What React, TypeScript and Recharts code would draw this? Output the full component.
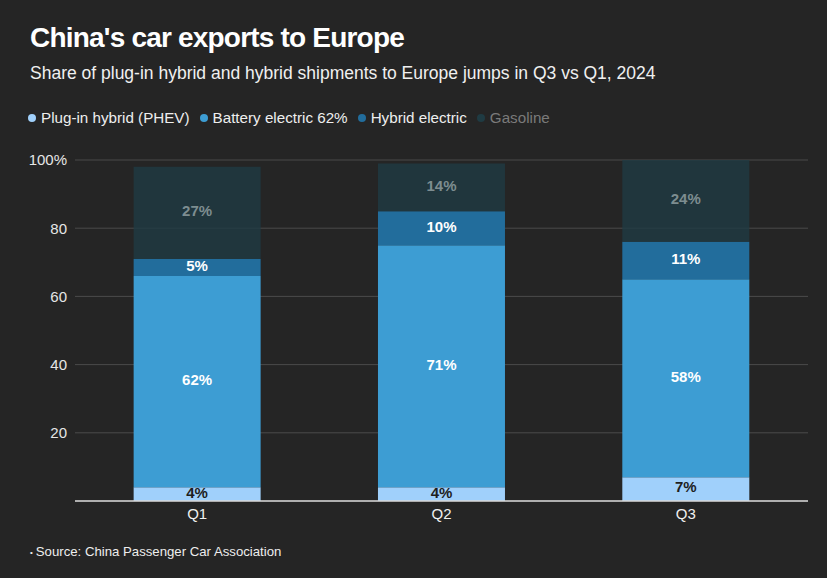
import { Bar, BarChart, CartesianGrid, LabelList, XAxis, YAxis } from "recharts";

const quarters = ["Q1", "Q2", "Q3"];
const phev = [4, 4, 7];
const battery = [62, 71, 58];
const hybrid = [5, 10, 11];
const gasoline = [27, 14, 24];
const yTicks = [0, 20, 40, 60, 80, 100];

const series = [
  { key: "phev", name: "Plug-in hybrid (PHEV)", color: "#a0d0fb", label: "#1e1e1e", legendText: "#eeeeee", opacity: 1 },
  { key: "battery", name: "Battery electric 62%", color: "#3d9dd3", label: "#ffffff", legendText: "#eeeeee", opacity: 1 },
  { key: "hybrid", name: "Hybrid electric", color: "#226d9c", label: "#ffffff", legendText: "#eeeeee", opacity: 1 },
  { key: "gasoline", name: "Gasoline", color: "#1f3b43", label: "#7d8d90", legendText: "#7a7a7a", opacity: 0.8 },
];

const data = quarters.map((q, i) => ({
  quarter: q,
  phev: phev[i],
  battery: battery[i],
  hybrid: hybrid[i],
  gasoline: gasoline[i],
}));

const font = '"Liberation Sans", Arial, Helvetica, sans-serif';

export default function App() {
  return (
    <div
      style={{
        position: "absolute",
        left: 0,
        top: 0,
        width: 827,
        height: 578,
        background: "#252525",
        fontFamily: font,
        overflow: "hidden",
      }}
    >
      <div style={{ position: "absolute", left: 30, top: 24, fontSize: 28, lineHeight: "28px", fontWeight: 700, color: "#ffffff", letterSpacing: -0.8, whiteSpace: "nowrap" }}>
        China's car exports to Europe
      </div>
      <div style={{ position: "absolute", left: 30, top: 65, fontSize: 17.5, lineHeight: "17px", color: "#f0f0f0", whiteSpace: "nowrap" }}>
        Share of plug-in hybrid and hybrid shipments to Europe jumps in Q3 vs Q1, 2024
      </div>
      <div style={{ position: "absolute", left: 28, top: 110, display: "flex", fontSize: 15.2, lineHeight: "15px", whiteSpace: "nowrap" }}>
        {series.map((s) => (
          <div key={s.key} style={{ display: "flex", alignItems: "center", marginRight: 10 }}>
            <span style={{ width: 8, height: 8, borderRadius: 4, background: s.color, marginRight: 5, display: "inline-block" }} />
            <span style={{ color: s.legendText }}>{s.name}</span>
          </div>
        ))}
      </div>

      <div style={{ position: "absolute", left: 0, top: 0 }}>
        <BarChart
          width={827}
          height={578}
          data={data}
          margin={{ top: 160, right: 19, left: 0, bottom: 47 }}
          barCategoryGap="24%"
        >
          <CartesianGrid stroke="#4a4a4a" vertical={false} />
          <XAxis
            dataKey="quarter"
            axisLine={{ stroke: "#d8d8d8", strokeWidth: 1.5 }}
            tickLine={false}
            tick={{ fill: "#f0f0f0", fontSize: 15, fontFamily: font }}
            tickMargin={1}
            height={30}
          />
          <YAxis
            domain={[0, 100]}
            ticks={yTicks}
            width={75}
            axisLine={false}
            tickLine={false}
            tick={{ fill: "#e6e6e6", fontSize: 15, fontFamily: font }}
            tickFormatter={(v: number) => (v === 0 ? "" : v === 100 ? "100%" : String(v))}
          />
          {series.map((s) => (
            <Bar key={s.key} dataKey={s.key} stackId="a" fill={s.color} fillOpacity={s.opacity} isAnimationActive={false}>
              <LabelList
                dataKey={s.key}
                position="center"
                offset={0}
                formatter={(v: number) => `${v}%`}
                style={{ fill: s.label, fontSize: 15, fontWeight: 700, fontFamily: font, transform: "translateY(-2px)" }}
              />
            </Bar>
          ))}
        </BarChart>
      </div>

      <div style={{ position: "absolute", left: 30, top: 545, fontSize: 13.2, lineHeight: "13px", color: "#eeeeee", whiteSpace: "nowrap" }}>
        <span style={{ fontSize: 8, verticalAlign: "middle", marginRight: 3 }}>•</span>
        Source: China Passenger Car Association
      </div>
    </div>
  );
}
